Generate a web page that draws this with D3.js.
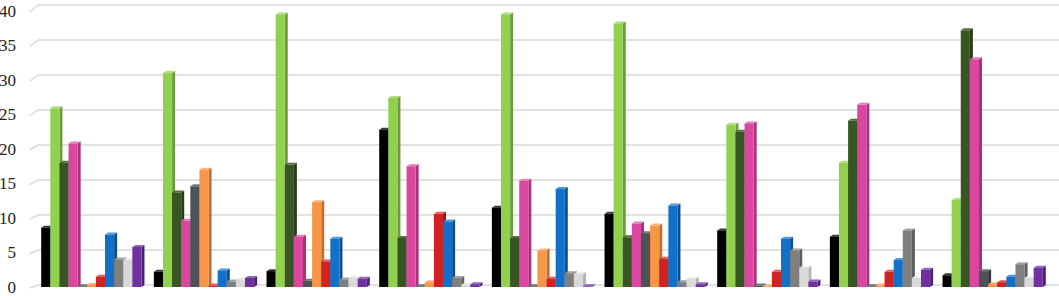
<!DOCTYPE html>
<html>
<head>
<meta charset="utf-8">
<script src="https://cdn.jsdelivr.net/npm/d3@7"></script>
<style>
  body { margin: 0; background: #fff; }
  svg { display: block; }
</style>
</head>
<body>
<script>
// groups along the x axis (no labels shown in the picture)
var groups = ['g1', 'g2', 'g3', 'g4', 'g5', 'g6', 'g7', 'g8', 'g9'];
var series = ['black', 'lightGreen', 'darkGreen', 'pink', 'charcoal', 'orange', 'red', 'blue', 'gray', 'lightGray', 'purple'];
var yTicks = [0, 5, 10, 15, 20, 25, 30, 35, 40];

// one array per series, one value per group
var black      = [8.6, 2.2, 2.3, 22.8, 11.5, 10.6, 8.2, 7.3, 1.7];
var lightGreen = [25.9, 31.0, 39.5, 27.4, 39.5, 38.2, 23.5, 18.0, 12.6];
var darkGreen  = [18.0, 13.7, 17.7, 7.1, 7.1, 7.2, 22.5, 24.1, 37.2];
var pink       = [20.8, 9.6, 7.3, 17.5, 15.4, 9.2, 23.7, 26.4, 33.0];
var charcoal   = [0.1, 14.6, 0.9, 0.1, 0.1, 7.8, 0.2, 0.1, 2.3];
var orange     = [0.3, 17.0, 12.3, 0.7, 5.3, 8.9, 0.1, 0.2, 0.4];
var red        = [1.5, 0.2, 3.7, 10.6, 1.2, 4.1, 2.2, 2.2, 0.7];
var blue       = [7.6, 2.4, 7.0, 9.5, 14.2, 11.8, 7.0, 3.9, 1.5];
var gray       = [4.0, 0.8, 1.1, 1.3, 2.0, 0.7, 5.3, 8.2, 3.3];
var lightGray  = [3.9, 1.1, 1.3, 0.3, 1.9, 1.2, 2.8, 1.3, 1.3];
var purple     = [5.8, 1.3, 1.2, 0.4, 0.1, 0.4, 0.8, 2.5, 2.8];

var values = [black, lightGreen, darkGreen, pink, charcoal, orange, red, blue, gray, lightGray, purple];

// front, side, top colours for each series
var front = ['#000000', '#92d050', '#375623', '#d9479f', '#4d5257', '#f79646', '#d02222', '#1170c8', '#7f7f7f', '#d9d9d9', '#7030a0'];
var side  = ['#1c1c1c', '#6e9c3c', '#263d18', '#ad2f7d', '#34383c', '#c26e2e', '#9c1515', '#0b4f90', '#5e5e5e', '#b3b3b3', '#4f1f75'];
var top_  = ['#3a3a3a', '#b0dc7c', '#52743c', '#e57cbd', '#70767c', '#fab37e', '#e45a5a', '#4f97da', '#a3a3a3', '#ececec', '#9462bb'];

var width = 1059, height = 296;
var depthX = 3, depthY = 2;

var svg = d3.select('body').append('svg').attr('width', width).attr('height', height);

var y = d3.scaleLinear().domain([0, 40]).range([287, 11]);

var x0 = d3.scaleBand().domain(groups).range([35, 1049]).paddingInner(0.11).paddingOuter(0.055);
var x1 = d3.scaleBand().domain(series).range([0, x0.bandwidth()]).padding(0);

// back wall gridlines with a short slanted stub at the left
var grid = svg.append('g');
yTicks.forEach(function (t) {
  var off = 2 + t / 10;
  var gy = y(t) - off;
  grid.append('line')
    .attr('x1', 38).attr('x2', width).attr('y1', gy).attr('y2', gy)
    .attr('stroke', '#d9d9d9').attr('stroke-width', 1.5);
  grid.append('line')
    .attr('x1', 30).attr('y1', y(t) + 1).attr('x2', 38).attr('y2', gy)
    .attr('stroke', '#d9d9d9').attr('stroke-width', 1.5);
});

// y axis labels
var labels = svg.append('g');
labels.selectAll('text')
  .data(yTicks)
  .enter()
  .append('text')
  .attr('x', 16)
  .attr('y', function (d) { return y(d); })
  .attr('dy', '0.35em')
  .attr('text-anchor', 'end')
  .style('font-family', '"Liberation Serif", "Times New Roman", Times, serif')
  .style('font-size', '17px')
  .style('fill', '#222')
  .text(function (d) { return d; });

// 3D columns, drawn left to right so each front covers the previous side
var bars = svg.append('g');
groups.forEach(function (g, gi) {
  series.forEach(function (s, si) {
    var v = values[si][gi];
    var bx = x0(g) + x1(s);
    var bw = x1.bandwidth();
    var by = y(v);
    var b0 = y(0);
    // side face
    bars.append('path')
      .attr('d', 'M' + (bx + bw) + ',' + by +
        'L' + (bx + bw + depthX) + ',' + (by - depthY) +
        'L' + (bx + bw + depthX) + ',' + (b0 - depthY) +
        'L' + (bx + bw) + ',' + b0 + 'Z')
      .attr('fill', side[si]);
    // top face
    bars.append('path')
      .attr('d', 'M' + bx + ',' + by +
        'L' + (bx + depthX) + ',' + (by - depthY) +
        'L' + (bx + bw + depthX) + ',' + (by - depthY) +
        'L' + (bx + bw) + ',' + by + 'Z')
      .attr('fill', top_[si]);
    // front face
    bars.append('rect')
      .attr('x', bx).attr('y', by)
      .attr('width', bw).attr('height', Math.max(0.5, b0 - by))
      .attr('fill', front[si]);
  });
});
</script>
</body>
</html>
